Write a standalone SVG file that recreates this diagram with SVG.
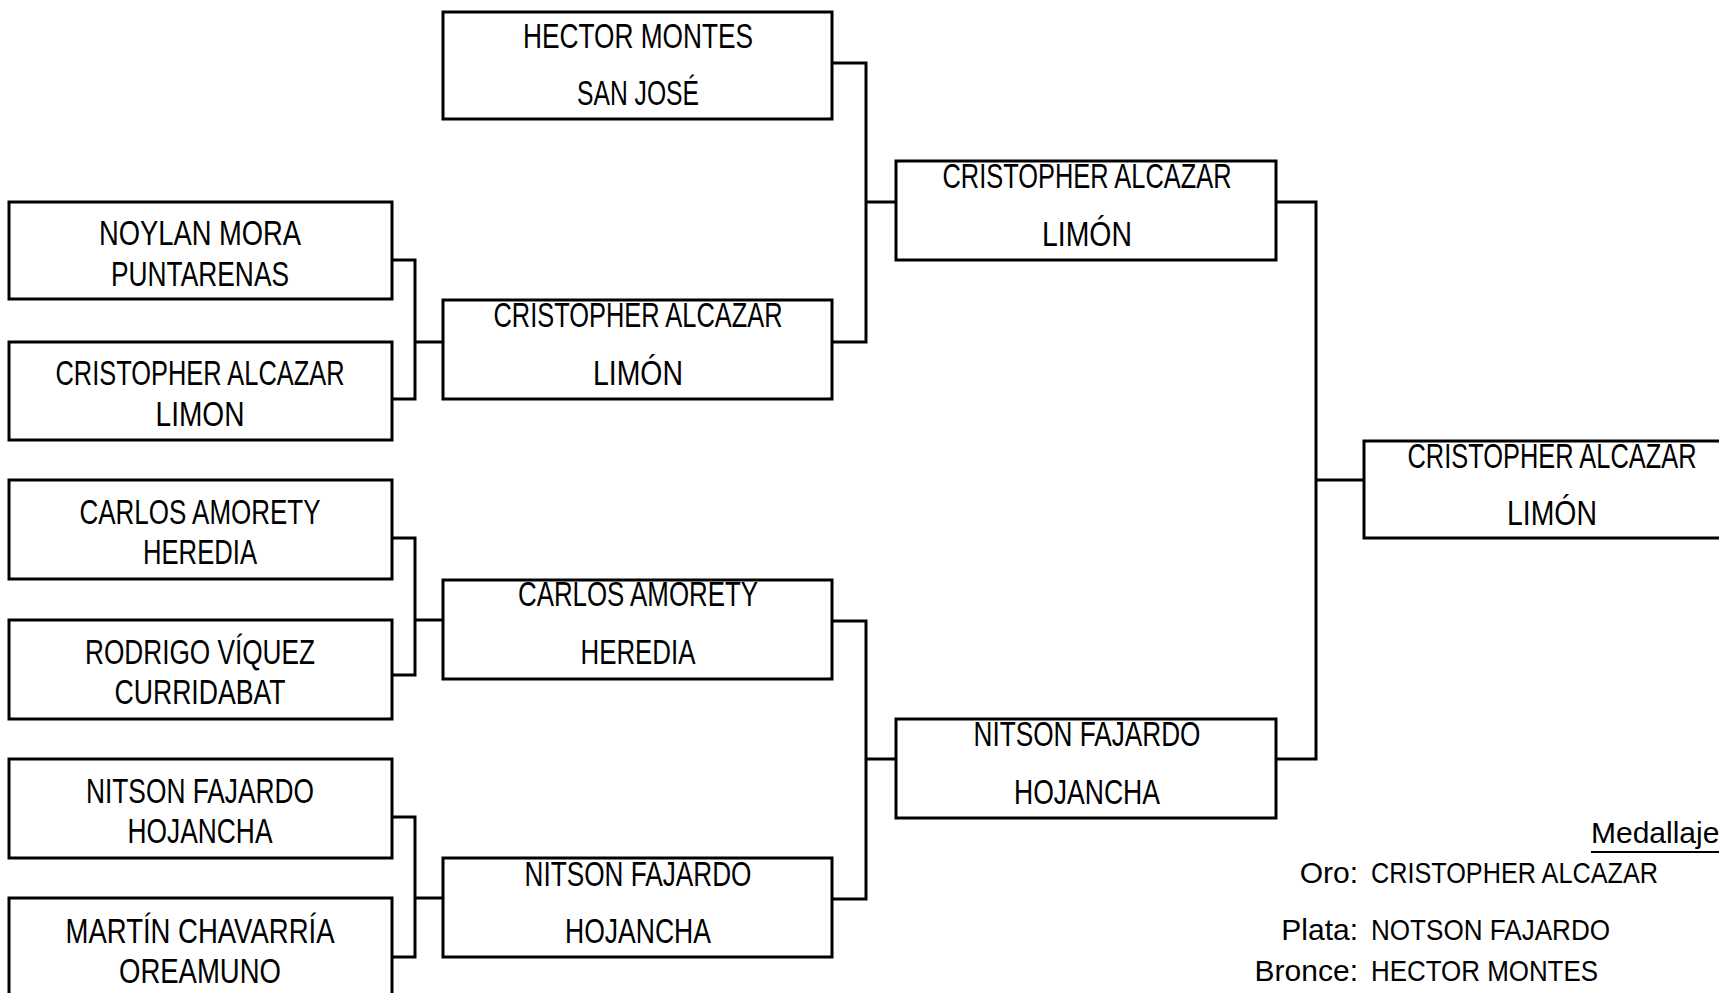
<svg xmlns="http://www.w3.org/2000/svg" width="1719" height="993" viewBox="0 0 1719 993">
<style>
.box{fill:#fff;stroke:#000;stroke-width:3}
.t{font-family:"Liberation Sans",Arial,sans-serif;font-size:35px;fill:#000;text-anchor:middle}
.lg{font-family:"Liberation Sans",Arial,sans-serif;font-size:30px;fill:#000}
.c{fill:none;stroke:#000;stroke-width:3;stroke-linecap:square}
</style>
<rect width="1719" height="993" fill="#fff"/>
<g id="connectors">
<path class="c" d="M392 260H415V399H392M415 342H443"/>
<path class="c" d="M392 538H415V675H392M415 620H443"/>
<path class="c" d="M392 817H415V957H392M415 898H443"/>
<path class="c" d="M832 63H866V342H832M866 202H896"/>
<path class="c" d="M832 621H866V899H832M866 759H896"/>
<path class="c" d="M1276 202H1316V759H1276M1316 480H1364"/>
</g>
<g id="r1-noylan"><rect class="box" x="9" y="202" width="383" height="97"/>
<text class="t" x="200" y="245" textLength="202" lengthAdjust="spacingAndGlyphs">NOYLAN MORA</text>
<text class="t" x="200" y="286" textLength="178" lengthAdjust="spacingAndGlyphs">PUNTARENAS</text></g>
<g id="r1-cristopher"><rect class="box" x="9" y="342" width="383" height="98"/>
<text class="t" x="200" y="385" textLength="289" lengthAdjust="spacingAndGlyphs">CRISTOPHER ALCAZAR</text>
<text class="t" x="200" y="426" textLength="89" lengthAdjust="spacingAndGlyphs">LIMON</text></g>
<g id="r1-carlos"><rect class="box" x="9" y="480" width="383" height="99"/>
<text class="t" x="200" y="524" textLength="241" lengthAdjust="spacingAndGlyphs">CARLOS AMORETY</text>
<text class="t" x="200" y="564" textLength="114" lengthAdjust="spacingAndGlyphs">HEREDIA</text></g>
<g id="r1-rodrigo"><rect class="box" x="9" y="620" width="383" height="99"/>
<text class="t" x="200" y="664" textLength="230" lengthAdjust="spacingAndGlyphs">RODRIGO VÍQUEZ</text>
<text class="t" x="200" y="704" textLength="171" lengthAdjust="spacingAndGlyphs">CURRIDABAT</text></g>
<g id="r1-nitson"><rect class="box" x="9" y="759" width="383" height="99"/>
<text class="t" x="200" y="803" textLength="228" lengthAdjust="spacingAndGlyphs">NITSON FAJARDO</text>
<text class="t" x="200" y="843" textLength="145" lengthAdjust="spacingAndGlyphs">HOJANCHA</text></g>
<g id="r1-martin"><rect class="box" x="9" y="898" width="383" height="110"/>
<text class="t" x="200" y="943" textLength="269" lengthAdjust="spacingAndGlyphs">MARTÍN CHAVARRÍA</text>
<text class="t" x="200" y="983" textLength="162" lengthAdjust="spacingAndGlyphs">OREAMUNO</text></g>
<g id="r2-hector"><rect class="box" x="443" y="12" width="389" height="107"/>
<text class="t" x="638" y="48" textLength="230" lengthAdjust="spacingAndGlyphs">HECTOR MONTES</text>
<text class="t" x="638" y="105" textLength="122" lengthAdjust="spacingAndGlyphs">SAN JOSÉ</text></g>
<g id="r2-cristopher"><rect class="box" x="443" y="300" width="389" height="99"/>
<text class="t" x="638" y="327" textLength="289" lengthAdjust="spacingAndGlyphs">CRISTOPHER ALCAZAR</text>
<text class="t" x="638" y="385" textLength="90" lengthAdjust="spacingAndGlyphs">LIMÓN</text></g>
<g id="r2-carlos"><rect class="box" x="443" y="580" width="389" height="99"/>
<text class="t" x="638" y="606" textLength="240" lengthAdjust="spacingAndGlyphs">CARLOS AMORETY</text>
<text class="t" x="638" y="664" textLength="115" lengthAdjust="spacingAndGlyphs">HEREDIA</text></g>
<g id="r2-nitson"><rect class="box" x="443" y="858" width="389" height="99"/>
<text class="t" x="638" y="886" textLength="227" lengthAdjust="spacingAndGlyphs">NITSON FAJARDO</text>
<text class="t" x="638" y="943" textLength="146" lengthAdjust="spacingAndGlyphs">HOJANCHA</text></g>
<g id="r3-cristopher"><rect class="box" x="896" y="161" width="380" height="99"/>
<text class="t" x="1087" y="188" textLength="289" lengthAdjust="spacingAndGlyphs">CRISTOPHER ALCAZAR</text>
<text class="t" x="1087" y="246" textLength="90" lengthAdjust="spacingAndGlyphs">LIMÓN</text></g>
<g id="r3-nitson"><rect class="box" x="896" y="719" width="380" height="99"/>
<text class="t" x="1087" y="746" textLength="227" lengthAdjust="spacingAndGlyphs">NITSON FAJARDO</text>
<text class="t" x="1087" y="804" textLength="146" lengthAdjust="spacingAndGlyphs">HOJANCHA</text></g>
<g id="final"><rect class="box" x="1364" y="441" width="380" height="97"/>
<text class="t" x="1552" y="468" textLength="289" lengthAdjust="spacingAndGlyphs">CRISTOPHER ALCAZAR</text>
<text class="t" x="1552" y="525" textLength="90" lengthAdjust="spacingAndGlyphs">LIMÓN</text></g>
<g id="medallero">
<text class="lg" x="1591" y="843">Medallaje</text>
<line x1="1591" y1="852" x2="1719" y2="852" stroke="#000" stroke-width="2"/>
<text class="lg" x="1358" y="883" text-anchor="end">Oro:</text>
<text class="lg" x="1371" y="883" textLength="287" lengthAdjust="spacingAndGlyphs">CRISTOPHER ALCAZAR</text>
<text class="lg" x="1358" y="940" text-anchor="end">Plata:</text>
<text class="lg" x="1371" y="940" textLength="239" lengthAdjust="spacingAndGlyphs">NOTSON FAJARDO</text>
<text class="lg" x="1358" y="981" text-anchor="end">Bronce:</text>
<text class="lg" x="1371" y="981" textLength="227" lengthAdjust="spacingAndGlyphs">HECTOR MONTES</text>
</g>
</svg>
